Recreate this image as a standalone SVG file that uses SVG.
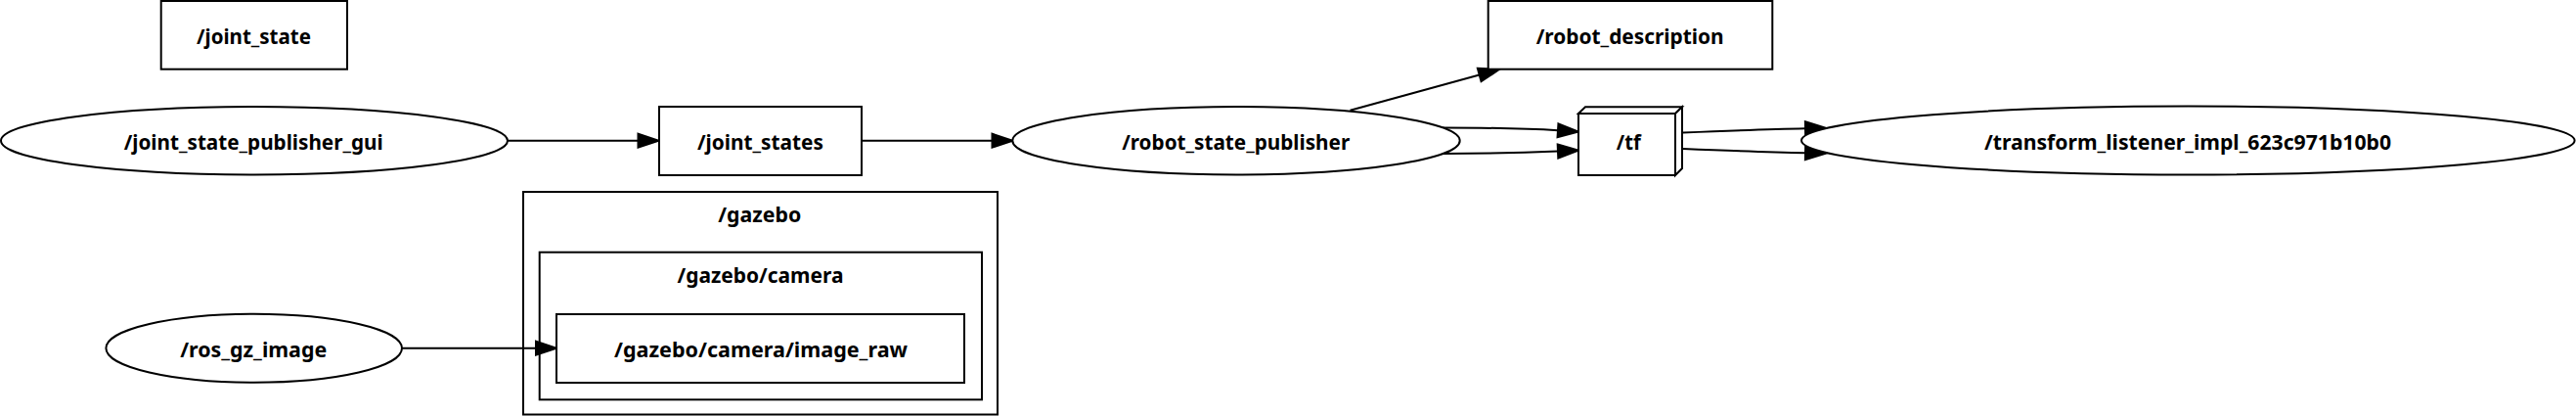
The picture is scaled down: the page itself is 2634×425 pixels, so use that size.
<svg xmlns="http://www.w3.org/2000/svg" width="2634" height="425" viewBox="0 0 2634 425">
<style>
.s{fill:#fff;stroke:#000;stroke-width:2}
.c{fill:none;stroke:#000;stroke-width:2}
.t{font-family:"Noto Sans","DejaVu Sans",sans-serif;font-weight:bold;font-size:21.5px;text-anchor:middle;fill:#000}
</style>
<defs>
<marker id="ah" markerUnits="userSpaceOnUse" markerWidth="24" markerHeight="18" refX="0" refY="8" orient="auto" overflow="visible">
<path d="M0,1 L21,8 L0,15 z" fill="#000" stroke="#000" stroke-width="2"/>
</marker>
</defs>
<rect width="2634" height="425" fill="#fff"/>
<g id="cluster_gazebo">
<rect class="s" x="535" y="196" width="485" height="227.5"/>
<text class="t" x="776.7" y="227" textLength="85" lengthAdjust="spacingAndGlyphs">/gazebo</text>
</g>
<g id="cluster_gazebo_camera">
<rect class="s" x="551.7" y="257.7" width="452.3" height="150.6"/>
<text class="t" x="777.5" y="288.5" textLength="170" lengthAdjust="spacingAndGlyphs">/gazebo/camera</text>
</g>
<g id="edges">
<path class="c" d="M519,143.7 L652.5,143.7" marker-end="url(#ah)"/>
<path class="c" d="M881,143.7 L1014.5,143.7" marker-end="url(#ah)"/>
<path class="c" d="M1380.5,112.7 L1512.7,76.5" marker-end="url(#ah)"/>
<path class="c" d="M1475,130.5 C1525,130.5 1570,131.8 1593,133.3" marker-end="url(#ah)"/>
<path class="c" d="M1475,157 C1525,157 1570,155.5 1593,154.5" marker-end="url(#ah)"/>
<path class="c" d="M1721,135.5 C1770,133.5 1810,132 1846,131.3" marker-end="url(#ah)"/>
<path class="c" d="M1721,152 C1770,154 1810,155.5 1846,156.2" marker-end="url(#ah)"/>
<path class="c" d="M411,355.7 L548,355.7" marker-end="url(#ah)"/>
</g>
<g id="joint_state">
<rect class="s" x="164.7" y="1" width="190.3" height="69.7"/>
<text class="t" x="259.5" y="45" textLength="117" lengthAdjust="spacingAndGlyphs">/joint_state</text>
</g>
<g id="joint_state_publisher_gui">
<ellipse class="s" cx="260" cy="143.7" rx="259" ry="34.7"/>
<text class="t" x="259.2" y="152.7" textLength="265" lengthAdjust="spacingAndGlyphs">/joint_state_publisher_gui</text>
</g>
<g id="joint_states">
<rect class="s" x="674" y="109" width="207" height="70"/>
<text class="t" x="777.4" y="153" textLength="129" lengthAdjust="spacingAndGlyphs">/joint_states</text>
</g>
<g id="robot_state_publisher">
<ellipse class="s" cx="1264" cy="143.7" rx="228.7" ry="34.7"/>
<text class="t" x="1263.7" y="152.7" textLength="233" lengthAdjust="spacingAndGlyphs">/robot_state_publisher</text>
</g>
<g id="robot_description">
<rect class="s" x="1521.7" y="1" width="290.6" height="69.7"/>
<text class="t" x="1666.7" y="45" textLength="192" lengthAdjust="spacingAndGlyphs">/robot_description</text>
</g>
<g id="tf">
<rect class="s" x="1614" y="116" width="99" height="63"/>
<polygon class="s" points="1614,116 1621,109.3 1720,109.3 1713,116"/>
<polygon class="s" points="1713,116 1720,109.3 1720,172 1713,179"/>
<text class="t" x="1665.3" y="153.2" textLength="25" lengthAdjust="spacingAndGlyphs">/tf</text>
</g>
<g id="transform_listener_impl_623c971b10b0">
<ellipse class="s" cx="2237.3" cy="143.5" rx="395.3" ry="35"/>
<text class="t" x="2237" y="152.5" textLength="416" lengthAdjust="spacingAndGlyphs">/transform_listener_impl_623c971b10b0</text>
</g>
<g id="ros_gz_image">
<ellipse class="s" cx="259.7" cy="355.7" rx="151.3" ry="35"/>
<text class="t" x="259.2" y="364.7" textLength="150" lengthAdjust="spacingAndGlyphs">/ros_gz_image</text>
</g>
<g id="gazebo_camera_image_raw">
<rect class="s" x="569" y="321" width="417" height="70"/>
<text class="t" x="778" y="365" textLength="300" lengthAdjust="spacingAndGlyphs">/gazebo/camera/image_raw</text>
</g>
</svg>
